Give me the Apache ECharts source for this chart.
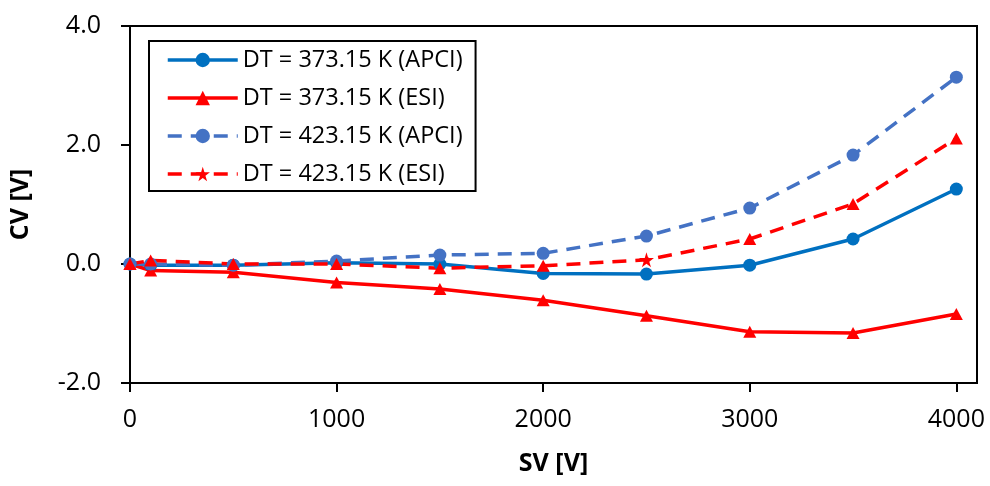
<!DOCTYPE html>
<html>
<head>
<meta charset="utf-8">
<script src="https://cdn.jsdelivr.net/npm/echarts@6/dist/echarts.min.js"></script>
<style>
  html, body { margin: 0; padding: 0; background: #fff; }
  #chart { width: 990px; height: 486px; }
</style>
</head>
<body>
<div id="chart"></div>
<script>
// Separation voltage (SV) steps and compensation voltage (CV) readings
const sv = [0, 100, 500, 1000, 1500, 2000, 2500, 3000, 3500, 4000];
const cvApci373 = [0.00, -0.02, -0.02, 0.02, 0.00, -0.16, -0.17, -0.02, 0.42, 1.26];
const cvEsi373  = [0.00, -0.11, -0.14, -0.31, -0.42, -0.61, -0.87, -1.14, -1.16, -0.84];
const cvApci423 = [0.00, 0.00, -0.02, 0.05, 0.15, 0.18, 0.47, 0.94, 1.83, 3.14];
const cvEsi423  = [0.00, 0.06, 0.00, 0.00, -0.07, -0.03, 0.07, 0.42, 1.01, 2.11];

const seriesNames = [
  'DT = 373.15 K (APCI)',
  'DT = 373.15 K (ESI)',
  'DT = 423.15 K (APCI)',
  'DT = 423.15 K (ESI)'
];
const xTicks = [0, 1000, 2000, 3000, 4000];
const yTicks = [-2, 0, 2, 4];

const FONT = "'Open Sans', sans-serif";
const STAR = 'path://M50,0 L61,35 L98,35 L68,57 L79,91 L50,70 L21,91 L32,57 L2,35 L39,35 Z';
const LINE_W = 3.5;

function pairs(ys) { return ys.map((y, i) => [sv[i], y]); }

const chart = echarts.init(document.getElementById('chart'), null, { renderer: 'canvas' });

chart.setOption({
  animation: false,
  backgroundColor: '#fff',
  textStyle: { fontFamily: FONT },
  grid: {
    left: 129, right: 13, top: 26, bottom: 103,
    show: true, borderColor: '#000', borderWidth: 2, backgroundColor: 'transparent'
  },
  legend: {
    orient: 'vertical',
    left: 149, top: 41,
    padding: [7, 13, 5, 17],
    borderColor: '#000', borderWidth: 2,
    backgroundColor: '#fff',
    itemWidth: 70, itemHeight: 18, itemGap: 14,
    lineStyle: { width: LINE_W },
    textStyle: { fontSize: 23.5, lineHeight: 20, color: '#000', fontFamily: FONT },
    data: seriesNames
  },
  xAxis: {
    type: 'value',
    min: 0, max: 4100,
    interval: 1000,
    name: 'SV [V]',
    nameLocation: 'middle',
    nameGap: 68,
    nameTextStyle: { fontSize: 25, fontWeight: 'bold', color: '#000', fontFamily: FONT },
    axisLine: { show: true, onZero: false, lineStyle: { color: '#000', width: 2 } },
    axisTick: { show: true, inside: false, length: 9, customValues: xTicks, lineStyle: { color: '#000', width: 2 } },
    axisLabel: {
      customValues: xTicks, margin: 24, fontSize: 25, color: '#000', fontFamily: FONT,
      formatter: v => String(v)
    },
    splitLine: { show: false }
  },
  yAxis: {
    type: 'value',
    min: -2, max: 4,
    interval: 2,
    name: 'CV [V]',
    nameLocation: 'middle',
    nameGap: 97,
    nameRotate: 90,
    nameTextStyle: { fontSize: 25, fontWeight: 'bold', color: '#000', fontFamily: FONT },
    axisLine: { show: true, onZero: false, lineStyle: { color: '#000', width: 2 } },
    axisTick: { show: true, inside: false, length: 9, customValues: yTicks, lineStyle: { color: '#000', width: 2 } },
    axisLabel: {
      customValues: yTicks, margin: 29, fontSize: 25, color: '#000', fontFamily: FONT,
      formatter: v => v.toFixed(1)
    },
    splitLine: { show: false }
  },
  series: [
    {
      name: seriesNames[0], type: 'line', data: pairs(cvApci373),
      symbol: 'circle', symbolSize: 13,
      lineStyle: { color: '#0070C0', width: LINE_W },
      itemStyle: { color: '#0070C0' }
    },
    {
      name: seriesNames[1], type: 'line', data: pairs(cvEsi373),
      symbol: 'triangle', symbolSize: [13, 12],
      lineStyle: { color: '#FF0000', width: LINE_W },
      itemStyle: { color: '#FF0000' }
    },
    {
      name: seriesNames[2], type: 'line', data: pairs(cvApci423),
      symbol: 'circle', symbolSize: 13,
      lineStyle: { color: '#4472C4', width: LINE_W, type: [14, 9] },
      itemStyle: { color: '#4472C4' }
    },
    {
      name: seriesNames[3], type: 'line',
      // star marker on the 2500 V point, triangles elsewhere
      data: pairs(cvEsi423).map((p, i) => (sv[i] === 2500 ? p : { value: p, symbol: 'triangle', symbolSize: [13, 12] })),
      symbol: STAR, symbolSize: 15,
      lineStyle: { color: '#FF0000', width: LINE_W, type: [14, 9] },
      itemStyle: { color: '#FF0000' }
    }
  ]
});
</script>
</body>
</html>
